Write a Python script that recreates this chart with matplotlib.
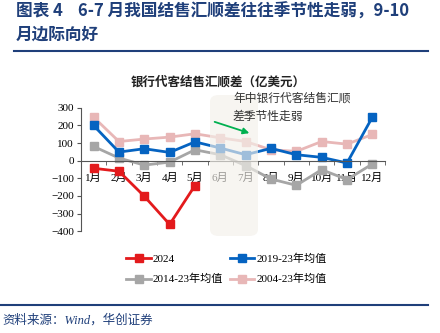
import matplotlib.pyplot as plt
import numpy as np
from matplotlib.patches import FancyBboxPatch

months = ['1月', '2月', '3月', '4月', '5月', '6月', '7月', '8月', '9月', '10月', '11月', '12月']
v2024 = [-43, -60, -202, -362, -141]
v1923 = [200, 49, 68, 47, 107, 72, 34, 70, 34, 19, -13, 247]
v1423 = [81, 15, -25, -8, 62, 34, -28, -104, -140, -51, -107, -19]
v0423 = [247, 109, 123, 134, 153, 130, 109, 62, 53, 109, 94, 149]

plt.rcParams['font.family'] = ['Liberation Serif', 'Noto Sans CJK SC']
cjk = ['Noto Sans CJK SC', 'DejaVu Sans']
navy = '#1f3f7a'

fig = plt.figure(figsize=(4.4, 3.33), dpi=100)
ax = fig.add_axes([0.184, 0.306, 0.691, 0.37])

x = np.arange(len(months))
ax.plot(x, v1423, color='#a6a6a6', marker='s', ms=6, lw=2, label='2014-23年均值')
ax.plot(x, v0423, color='#e8b7b7', marker='s', ms=6, lw=2, label='2004-23年均值')
ax.plot(x, v1923, color='#0563c1', marker='s', ms=6, lw=2, label='2019-23年均值')
ax.plot(x[:len(v2024)], v2024, color='#e31a1c', marker='s', ms=6, lw=2, label='2024')

ax.set_xlim(-0.5, 11.5)
ax.set_ylim(-400, 300)
ax.set_yticks(np.arange(-400, 301, 100))
ax.set_xticks(x)
ax.set_xticklabels(months)
ax.set_xticks(np.arange(-0.5, 12, 1), minor=True)
ax.tick_params(labelsize=8)
ax.tick_params(axis='x', which='major', length=0, pad=9)
ax.tick_params(axis='x', which='minor', length=3, direction='out', color='#555555')
ax.tick_params(axis='y', length=3, direction='out', color='#555555', pad=2)
for s in ['top', 'right']:
    ax.spines[s].set_visible(False)
ax.spines['bottom'].set_position(('data', 0))
ax.spines['bottom'].set_color('#555555')
ax.spines['left'].set_color('#555555')

# shaded block over Jun-Jul
box = FancyBboxPatch((210 / 440, 1 - 236 / 333), 48 / 440, 141 / 333,
                     boxstyle='round,pad=0,rounding_size=0.02',
                     transform=fig.transFigure, facecolor='#f3f0ea', edgecolor='none',
                     alpha=0.65, zorder=10)
fig.patches.append(box)

fig.text(233 / 440, 1 - 92 / 333, '年中银行代客结售汇顺\n差季节性走弱', fontfamily=cjk,
         fontsize=8.5, color='#333333', va='top', ha='left', linespacing=1.5, zorder=11)
arrow = plt.Annotation('', xy=(252 / 440, 1 - 134 / 333), xytext=(212 / 440, 1 - 121 / 333),
                       xycoords='figure fraction', textcoords='figure fraction',
                       arrowprops=dict(arrowstyle='-|>', color='#00b050', lw=1.3,
                                       mutation_scale=9))
arrow.set_zorder(12)
fig.add_artist(arrow)

fig.text(218 / 440, 1 - 82 / 333, '银行代客结售汇顺差（亿美元）', fontfamily=cjk, fontsize=9,
         fontweight='bold', ha='center', va='center', color='#222222')

h, l = ax.get_legend_handles_labels()
order = [3, 0, 2, 1]
fig.legend([h[i] for i in order], [l[i] for i in order], ncol=2, loc='center',
           bbox_to_anchor=(0.515, 1 - 269 / 333), frameon=False, prop={'size': 8},
           handlelength=2.2, columnspacing=0.6, handletextpad=0.2, labelspacing=0.9)

# header
fig.text(16 / 440, 1 - 12 / 333, '图表 4    6-7 月我国结售汇顺差往往季节性走弱，9-10', fontfamily=cjk,
         fontsize=12, fontweight='bold', color=navy, va='center')
fig.text(16 / 440, 1 - 35 / 333, '月边际向好', fontfamily=cjk,
         fontsize=12, fontweight='bold', color=navy, va='center')
fig.add_artist(plt.Line2D([14 / 440, 428 / 440], [1 - 51 / 333, 1 - 51 / 333], color=navy, lw=1.5))
fig.add_artist(plt.Line2D([0, 428 / 440], [1 - 305 / 333, 1 - 305 / 333], color=navy, lw=1.5))
fig.text(2 / 440, 1 - 320 / 333, '资料来源：Wind，华创证券',
         fontsize=9, style='italic', color=navy, va='center')

fig.savefig('out.png', dpi=100)
